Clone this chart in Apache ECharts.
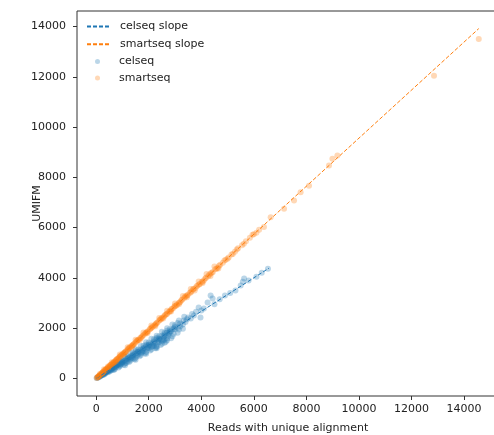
<!DOCTYPE html>
<html>
<head>
<meta charset="utf-8">
<script src="https://cdn.jsdelivr.net/npm/echarts@6/dist/echarts.min.js"></script>
<style>html,body{margin:0;padding:0;background:#fff}#c{width:494px;height:435px}</style>
</head>
<body>
<div id="c"></div>
<script>
// ---- data ----
const xTicks = [0, 2000, 4000, 6000, 8000, 10000, 12000, 14000];
const yTicks = [0, 2000, 4000, 6000, 8000, 10000, 12000, 14000];
const seriesNames = ['celseq slope', 'smartseq slope', 'celseq', 'smartseq'];

const celseqSlope = [[0, 0], [6575, 4386]];
const smartseqSlope = [[0, 0], [14560, 13920]];

const celseqPoints = [
  [20,12],[50,30],[80,50],[110,68],[140,90],[170,105],[200,128],[230,150],[260,165],[290,190],
  [320,205],[350,228],[380,245],[420,275],[450,290],[490,320],[520,335],[560,368],[600,385],[640,420],
  [680,440],[720,475],[760,490],[800,530],[840,540],[880,580],[920,595],[970,640],[1010,650],[1060,700],
  [1100,705],[1150,770],[1200,770],[1250,835],[1300,840],[1350,905],[1400,900],[1450,960],[1500,985],[1550,1010],
  [1600,1080],[1650,1060],[1700,1150],[1750,1120],[1800,1210],[1850,1190],[1900,1280],[1950,1240],[2000,1350],[2050,1310],
  [2100,1390],[2150,1380],[2200,1480],[2250,1420],[2300,1560],[2350,1500],[2400,1590],[2450,1570],[2500,1700],[2550,1640],
  [2600,1760],[2650,1690],[2700,1820],[2750,1780],[2800,1870],[2850,1880],[2900,1950],[2950,2000],[3000,2050],[3100,2030],
  [3200,2180],[3300,2150],[3330,2300],[3400,2240],[3500,2420],[3600,2380],[3720,2500],[3800,2650],[3900,2820],[3970,2425],
  [4000,2700],[4100,2780],[4240,3020],[4355,3300],[4430,3180],[4500,2950],[4700,3150],[4900,3300],[5100,3400],[5300,3500],
  [5500,3700],[5630,3980],[5580,3850],[5800,3900],[6100,4050],[6300,4200],[6537,4362],
  [600,340],[900,520],[1200,690],[1400,800],[1600,950],[1800,1080],[2000,1200],[2200,1300],[2400,1450],[2600,1550],
  [1000,620],[1300,760],[1700,1000],[2100,1250],[2500,1500],[2300,1280],[2700,1600],
  [1500,1080],[1900,1340],[2300,1620],[2700,1900],[3100,2200],[3450,2350],[3650,2560],
  [300,160],[500,270],[700,380],[900,480],[1100,600],[1300,700],[1500,820],[1700,930],[1900,1050],[2100,1150],
  [2300,1250],[2500,1380],[2700,1520],[2900,1680],[3100,1820],[3300,1980],
  [300,230],[500,390],[700,560],[900,700],[1100,860],[1300,1010],[1500,1160],[1700,1290],[1900,1440],[2100,1580],
  [2300,1700],[2500,1860],[2700,2000],[2900,2150],[3150,2300],[3350,2450],
  [400,260],[600,410],[800,540],[1000,680],[1200,810],[1400,940],[1600,1060],[1800,1190],[2000,1320],[2200,1440],
  [2400,1560],[2600,1700],[2800,1820],[3000,1960],[3200,2080],
  [250,140],[450,250],[650,330],[850,430],[1050,540],[1250,650],[1450,760],[1650,880],[1850,990],[2050,1110],
  [2250,1200],[2450,1330],[2650,1460],[2850,1600],
  [150,80],[350,200],[550,300],[750,440],[950,560],[1150,620],[1350,820],[1550,900],[1750,1050],[1950,1200],
  [2150,1290],[2350,1420],[2550,1520],[2750,1700],[2950,1780],[3150,1950],
  [200,150],[400,300],[600,450],[800,600],[1000,740],[1200,880],[1400,1020],[1600,1150],[1800,1300],[2000,1430],
  [2200,1560],[2400,1680],[2600,1820],[2800,1960],[3000,2120],
  [700,350],[1100,520],[1500,740],[1900,980],[2300,1200],[2600,1420]
];

const smartseqPoints = [
  [20,15],[45,48],[70,62],[95,95],[120,110],[150,148],[180,168],[210,205],[240,225],[270,262],
  [300,282],[330,320],[360,340],[400,385],[430,410],[470,452],[500,475],[540,520],[580,552],[620,598],
  [660,628],[700,672],[740,705],[780,748],[820,780],[860,825],[900,858],[950,910],[1000,952],[1050,1008],
  [1100,1048],[1150,1102],[1200,1142],[1250,1198],[1300,1240],[1350,1295],[1400,1335],[1450,1390],[1500,1430],[1560,1495],
  [1620,1545],[1680,1612],[1740,1660],[1800,1725],[1860,1775],[1920,1840],[1980,1888],[2040,1955],[2100,2005],[2160,2070],
  [2220,2118],[2280,2185],[2340,2232],[2400,2300],[2460,2345],[2520,2415],[2580,2460],[2640,2530],[2700,2575],[2760,2645],
  [2820,2690],[2880,2760],[2940,2805],[3000,2875],[3070,2930],[3140,3005],[3210,3060],[3280,3140],[3350,3195],[3420,3275],
  [3490,3330],[3560,3410],[3630,3465],[3700,3545],[3780,3600],[3860,3700],[3940,3760],[4020,3850],[4100,3910],[4180,4010],
  [4260,4065],[4350,4170],[4440,4230],[4530,4340],[4620,4400],[4720,4520],[4820,4600],[4930,4720],[5040,4810],[5150,4930],
  [5280,5040],[5400,5180],[5550,5300],[5700,5460],[5850,5600],[6000,5740],[6200,5920],[6385,6020],[6640,6410],[7150,6750],
  [7530,7080],[7780,7410],[8100,7670],[8860,8470],[8990,8740],[9180,8870],[12857,12040],[14560,13510],
  [60,40],[130,128],[230,210],[350,345],[450,418],[560,545],[680,640],[800,775],[930,900],[1080,1020],
  [1220,1180],[1380,1300],[1530,1475],[1700,1610],[1880,1810],[2060,1980],[2250,2140],[2430,2340],[2610,2500],[2800,2660],
  [2980,2870],[3180,3020],[3380,3250],[3600,3420],[3820,3670],[4050,3850],[4300,4120],[4580,4360],[4880,4690],[5200,4950],
  [100,80],[250,250],[380,350],[520,510],[640,605],[760,735],[880,845],[1000,975],[1120,1060],[1270,1225],
  [1420,1350],[1590,1530],[1760,1690],[1940,1850],[2120,2040],[2300,2190],[2490,2390],[2680,2560],[2860,2750],[3050,2900],
  [3250,3120],[3460,3300],[3700,3560],[3920,3740],[4150,3980],[4400,4200],[4680,4480],[5000,4760],[5350,5130],[5620,5360],
  [5950,5720],[6100,5800],
  [150,190],[300,360],[450,470],[600,640],[750,660],[900,950],[1050,950],[1200,1240],[1350,1240],[1500,1540],
  [1650,1520],[1800,1830],[1950,1800],[2100,2110],[2250,2080],[2400,2400],[2550,2380],[2700,2690],[2850,2660],[3000,2980],
  [3150,2950],[3300,3280],[3450,3230],[3600,3560],[3750,3500],[3900,3860],[4050,3800],[4200,4150],[4350,4080],[4500,4450],
  [4650,4370]
];

// ---- chart ----
const blue = '#1f77b4', orange = '#ff7f0e';
const font = 'DejaVu Sans';
const textColor = '#222';
const chart = echarts.init(document.getElementById('c'), null, {renderer: 'canvas'});
chart.setOption({
  animation: false,
  backgroundColor: '#fff',
  grid: {left: 77, top: 11, right: -5, bottom: 39, outerBoundsMode: 'none', containLabel: false,
         show: true, borderColor: '#333', borderWidth: 1, backgroundColor: 'transparent'},
  legend: [
    {
      data: [
        {name: seriesNames[0], itemStyle: {opacity: 0}},
        {name: seriesNames[1], itemStyle: {opacity: 0}}
      ],
      orient: 'vertical', left: 86, top: 21, padding: 0,
      itemWidth: 24, itemHeight: 14, itemGap: 6.5,
      textStyle: {fontFamily: font, fontSize: 11, color: textColor, padding: [0, 0, 0, 4]}
    },
    {
      data: [
        {name: seriesNames[2], icon: 'circle'},
        {name: seriesNames[3], icon: 'circle'}
      ],
      orient: 'vertical', left: 95, top: 56, padding: 0,
      itemWidth: 5, itemHeight: 5, itemGap: 5.5,
      textStyle: {fontFamily: font, fontSize: 11, color: textColor, padding: [0, 0, 0, 14]}
    }
  ],
  xAxis: {
    type: 'value', min: -730, max: 15330,
    name: 'Reads with unique alignment', nameLocation: 'middle', nameGap: 27, nameMoveOverlap: false,
    nameTextStyle: {fontFamily: font, fontSize: 11, color: textColor},
    axisLine: {show: false, onZero: false},
    axisTick: {show: true, length: 4, lineStyle: {color: '#333'}, customValues: xTicks},
    axisLabel: {fontFamily: font, fontSize: 11, color: textColor, margin: 8, customValues: xTicks,
                formatter: v => String(v)},
    splitLine: {show: false}
  },
  yAxis: {
    type: 'value', min: -700, max: 14620,
    name: 'UMIFM', nameLocation: 'middle', nameGap: 34, nameRotate: 90, nameMoveOverlap: false,
    nameTextStyle: {fontFamily: font, fontSize: 11, color: textColor},
    axisLine: {show: false, onZero: false},
    axisTick: {show: true, length: 4, lineStyle: {color: '#333'}, customValues: yTicks},
    axisLabel: {fontFamily: font, fontSize: 11, color: textColor, margin: 11, customValues: yTicks,
                formatter: v => String(v)},
    splitLine: {show: false}
  },
  series: [
    {name: seriesNames[0], type: 'line', data: celseqSlope, symbol: 'none', z: 3,
     color: blue, lineStyle: {color: blue, width: 1, type: [4, 2]}},
    {name: seriesNames[1], type: 'line', data: smartseqSlope, symbol: 'none', z: 3,
     color: orange, lineStyle: {color: orange, width: 1, type: [4, 2]}},
    {name: seriesNames[2], type: 'scatter', data: celseqPoints, symbolSize: 6, z: 2,
     color: blue, itemStyle: {color: blue, opacity: 0.3}},
    {name: seriesNames[3], type: 'scatter', data: smartseqPoints, symbolSize: 6, z: 2,
     color: orange, itemStyle: {color: orange, opacity: 0.3}}
  ]
});
</script>
</body>
</html>
